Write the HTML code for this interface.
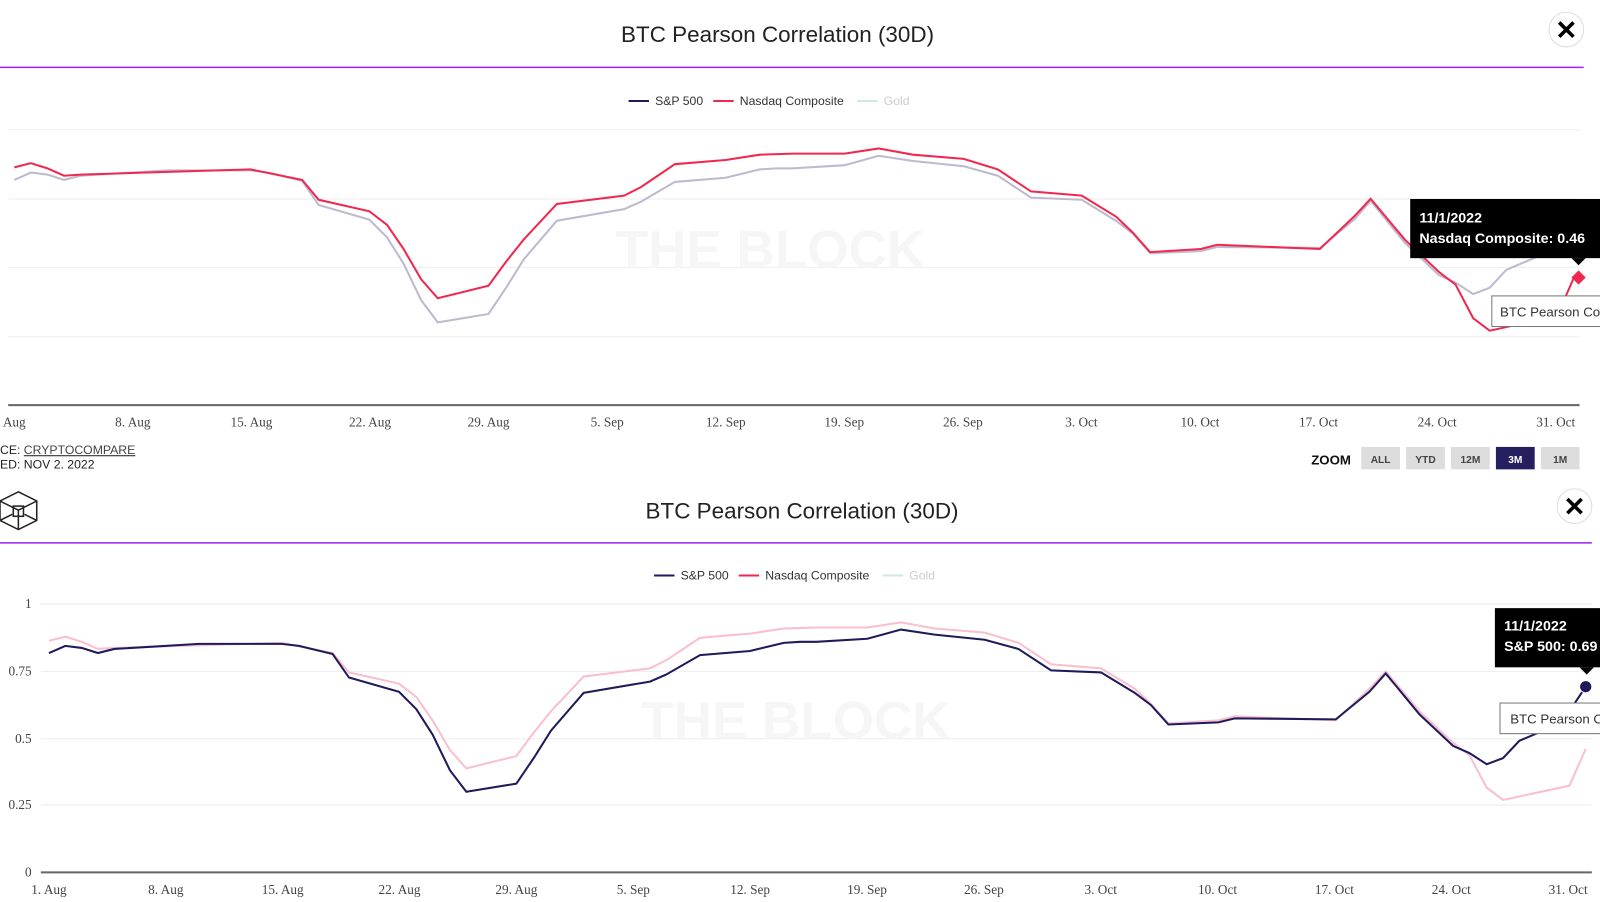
<!DOCTYPE html><html><head><style>
body{margin:0;width:1600px;height:902px;background:#fff;overflow:hidden;font-family:"Liberation Sans",sans-serif;position:relative}
</style></head><body>
<svg id="s" width="1600" height="902" viewBox="0 0 1568 884" preserveAspectRatio="none" style="position:absolute;left:0;top:0" font-family="Liberation Sans, sans-serif"></svg>
<script>
(function(){
var S=[[48,640],[64,633],[80,635],[96,640],[112,636],[195,631],[276,631],[293,633],[326,641],[342,664],[391,678],[408,695],[424,720],[441,755],[457,776],[506,768],[523,743],[540,716],[572,679],[637,668],[653,661],[686,642],[735,638],[768,630],[784,629],[800,629],[850,626],[883,617],[916,622],[965,627],[998,636],[1030,657],[1079,659],[1112,679],[1128,691],[1145,710],[1194,708],[1210,704],[1309,705],[1342,678],[1358,660],[1391,700],[1424,731],[1440,738],[1457,749],[1473,743],[1489,726],[1522,712],[1538,697],[1554,673]];
var N=[[48,628],[64,624],[80,629],[96,636],[112,635],[276,630],[326,640],[342,659],[391,670],[408,683],[424,706],[441,735],[457,753],[506,741],[523,718],[540,697],[572,663],[637,655],[653,647],[686,625],[735,621],[768,616],[800,615],[850,615],[883,610],[916,616],[965,620],[998,630],[1030,651],[1079,655],[1112,675],[1128,690],[1145,709],[1194,706],[1210,702],[1309,706],[1342,675],[1358,658],[1391,697],[1424,728],[1440,740],[1457,772],[1473,784],[1538,770],[1554,734]];
function topPts(a){return a.map(function(p){var d=(p[0]-48)/16.36,v=(855-p[1])/263;return (14+d*16.6).toFixed(1)+','+(397-270*v).toFixed(1)}).join(' ')}
function botPts(a){return a.map(function(p){return p.join(',')}).join(' ')}
var h='';
h+='<line x1="0" y1="66" x2="1552" y2="66" stroke="#a020f0" stroke-width="1.5"/><line x1="0" y1="532" x2="1560" y2="532" stroke="#a020f0" stroke-width="1.5"/>';
[127,195,262,330].forEach(function(y){h+='<line x1="8" y1="'+y+'" x2="1548" y2="'+y+'" stroke="#eee"/>'});
h+='<line x1="8" y1="397" x2="1548" y2="397" stroke="#666" stroke-width="2"/>';
[592,658,724,789].forEach(function(y){h+='<line x1="40" y1="'+y+'" x2="1560" y2="'+y+'" stroke="#eee"/>'});
h+='<line x1="40" y1="855" x2="1560" y2="855" stroke="#666" stroke-width="2"/>';
h+='<text x="755" y="262" font-size="52" font-weight="bold" fill="#f6f6f6" text-anchor="middle">THE BLOCK</text>';
h+='<text x="780" y="724" font-size="52" font-weight="bold" fill="#f6f6f6" text-anchor="middle">THE BLOCK</text>';
h+='<polyline points="'+topPts(S)+'" fill="none" stroke="#bdb9cf" stroke-width="2"/>';
h+='<polyline points="'+topPts(N)+'" fill="none" stroke="#f0284f" stroke-width="2"/>';
h+='<polyline points="'+botPts(N)+'" fill="none" stroke="#f9bfcf" stroke-width="2"/>';
h+='<polyline points="'+botPts(S)+'" fill="none" stroke="#1f1b5b" stroke-width="2"/>';
h+='<path d="M1547 265 L1554 272 L1547 279 L1540 272Z" fill="#f0284f"/><circle cx="1554" cy="673" r="6" fill="#1f1b5b" stroke="#fff"/>';
function leg(x,y){return '<line x1="'+x+'" y1="'+y+'" x2="'+(x+20)+'" y2="'+y+'" stroke="#1f1b5b" stroke-width="2"/><text x="'+(x+26)+'" y="'+(y+4)+'" font-size="12" fill="#333">S&amp;P 500</text><line x1="'+(x+83)+'" y1="'+y+'" x2="'+(x+103)+'" y2="'+y+'" stroke="#f0284f" stroke-width="2"/><text x="'+(x+109)+'" y="'+(y+4)+'" font-size="12" fill="#333">Nasdaq Composite</text><line x1="'+(x+224)+'" y1="'+y+'" x2="'+(x+244)+'" y2="'+y+'" stroke="#cce8e4" stroke-width="2"/><text x="'+(x+250)+'" y="'+(y+4)+'" font-size="12" fill="#ccc">Gold</text>';}
h+=leg(616,99)+leg(641,564);
var L=['Aug','8. Aug','15. Aug','22. Aug','29. Aug','5. Sep','12. Sep','19. Sep','26. Sep','3. Oct','10. Oct','17. Oct','24. Oct','31. Oct'];
L.forEach(function(l,i){var x=i==0?14:14+i*7*16.6;h+='<text x="'+x+'" y="418" font-size="13" fill="#444" text-anchor="middle" font-family="Liberation Serif,serif">'+l+'</text>';
var xb=48+i*7*16.36;h+='<text x="'+xb+'" y="876" font-size="13" fill="#444" text-anchor="middle" font-family="Liberation Serif,serif">'+(i==0?'1. Aug':l)+'</text>'});
[['1',596],['0.75',662],['0.5',728],['0.25',793],['0',859]].forEach(function(a){h+='<text x="31" y="'+a[1]+'" font-size="13" fill="#444" text-anchor="end" font-family="Liberation Serif,serif">'+a[0]+'</text>'});
h+='<rect x="1382" y="195" width="190" height="58" fill="#000"/><path d="M1540 253 L1547 260 L1554 253Z" fill="#000"/><text x="1391" y="218" font-size="14" font-weight="bold" fill="#fff">11/1/2022</text><text x="1391" y="238" font-size="14" font-weight="bold" fill="#fff">Nasdaq Composite: 0.46</text>';
h+='<rect x="1462" y="290" width="140" height="30" fill="#fff" stroke="#777"/><text x="1470" y="310" font-size="13" fill="#333">BTC Pearson Co</text>';
h+='<rect x="1465" y="596" width="140" height="58" fill="#000"/><path d="M1548 654 L1555 661 L1562 654Z" fill="#000"/><text x="1474" y="618" font-size="14" font-weight="bold" fill="#fff">11/1/2022</text><text x="1474" y="638" font-size="14" font-weight="bold" fill="#fff">S&amp;P 500: 0.69</text>';
h+='<rect x="1470" y="689" width="140" height="30" fill="#fff" stroke="#777"/><text x="1480" y="709" font-size="13" fill="#333">BTC Pearson C</text>';
h+='<text x="1285" y="455" font-size="13" font-weight="bold" fill="#111">ZOOM</text>';
[['ALL',1334],['YTD',1378],['12M',1422],['3M',1466],['1M',1510]].forEach(function(b){var a=b[0]=='3M';h+='<rect x="'+b[1]+'" y="438" width="38" height="22" fill="'+(a?'#241f5e':'#ddd')+'"/><text x="'+(b[1]+19)+'" y="454" font-size="10" font-weight="bold" fill="'+(a?'#fff':'#444')+'" text-anchor="middle">'+b[0]+'</text>'});
h+='<text x="0" y="445" font-size="12" fill="#222">CE: <tspan text-decoration="underline" fill="#444">CRYPTOCOMPARE</tspan></text><text x="0" y="459" font-size="12" fill="#222">ED: NOV 2. 2022</text>';
h+='<path d="M18 482 L36 491 L36 510 L18 519 L0 510 L0 491Z M0 491 L18 500 L36 491 M18 500 L18 519 M0 510 L12 504 M36 510 L24 504" fill="none" stroke="#222" stroke-width="1.5"/><rect x="13" y="496" width="10" height="10" fill="none" stroke="#222" stroke-width="1.5"/>';
[[1535,29],[1543,496]].forEach(function(c){h+='<circle cx="'+c[0]+'" cy="'+c[1]+'" r="17" fill="#fff" stroke="#ddd"/><path d="M'+(c[0]-7)+' '+(c[1]-7)+' L'+(c[0]+7)+' '+(c[1]+7)+' M'+(c[0]+7)+' '+(c[1]-7)+' L'+(c[0]-7)+' '+(c[1]+7)+'" stroke="#000" stroke-width="3.5"/>'});
h+='<text x="762" y="41" font-size="22" fill="#222" text-anchor="middle">BTC Pearson Correlation (30D)</text><text x="786" y="508" font-size="22" fill="#222" text-anchor="middle">BTC Pearson Correlation (30D)</text>';
document.getElementById('s').innerHTML=h;
})();
</script>
</body></html>
